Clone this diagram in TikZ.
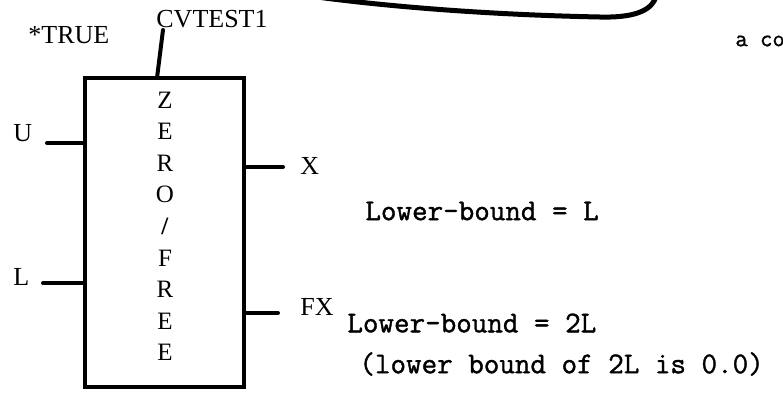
\documentclass[tikz,border=0pt]{standalone}
\usepackage{fontspec}
\setmainfont{Liberation Serif}
\setmonofont{Latin Modern Mono}[FakeBold=1.2]
\usetikzlibrary{positioning,calc}

\begin{document}
\begin{tikzpicture}[
  x=0.5pt, y=-0.5pt,
  capname/.style={font=\fontsize{13}{15}\selectfont, inner sep=0pt, anchor=west},
  boxletter/.style={font=\fontsize{12.5}{14}\selectfont, inner sep=0pt},
  typed/.style={font=\ttfamily\bfseries\fontsize{15.1}{17}\selectfont, inner sep=0pt, anchor=west},
  blockbox/.style={draw, line width=2.2pt, minimum width=79.5pt, minimum height=154.5pt, inner sep=0pt},
  wire/.style={line width=2pt, line cap=round}
]
\useasboundingbox (0,0) rectangle (783,398);
\clip (0,0) rectangle (783,398);

% the block
\node[blockbox] (box) at (164.5,232.5) {};
\foreach \ch [count=\i] in {Z,E,R,O,\textbf{/},F,R,E,E}
  \node[boxletter] (ch\i) at (165,{100+31.6*(\i-1)}) {\ch};

% names round the block
\node[capname] (truelbl) at (28,35) {*TRUE};
\node[capname] (cvlbl) at (156,19) {CVTEST1};
\node[capname] (ulbl) at (13,133) {U};
\node[capname] (llbl) at (13,277) {L};
\node[capname] (xlbl) at (300,166) {X};
\node[capname] (fxlbl) at (300,307) {FX};

% notes
\node[typed] (lbL) at (365,211) {Lower-bound = L};
\node[typed] (lb2L) at (347,323) {Lower-bound = 2L};
\node[typed] (lbnote) at (359,364) {(lower bound of 2L is 0.0)};
\node[typed, font=\ttfamily\bfseries\fontsize{12}{14}\selectfont] (acont) at (735,41) {a co};

% pins
\coordinate (cvEnd) at (163,30);
\coordinate (cvFoot) at (157,78);
\coordinate (uEnd) at (47,143);
\coordinate (lEnd) at (43,283);
\coordinate (xEnd) at (283,167);
\coordinate (fxEnd) at (278,313);
\draw[wire] (cvEnd) -- (cvFoot);
\draw[wire] (uEnd) -- (uEnd -| box.west);
\draw[wire] (lEnd) -- (lEnd -| box.west);
\draw[wire] (xEnd -| box.east) -- (xEnd);
\draw[wire] (fxEnd -| box.east) -- (fxEnd);

% edge of the block above
\coordinate (arcA) at (317,-3);
\coordinate (arcB) at (600,17);
\coordinate (arcC) at (656,-3);
\draw[wire, line width=2.5pt] (arcA) .. controls (400,8) and (500,15) .. (arcB)
  .. controls (640,18) and (652,8) .. (arcC);
\end{tikzpicture}
\end{document}
